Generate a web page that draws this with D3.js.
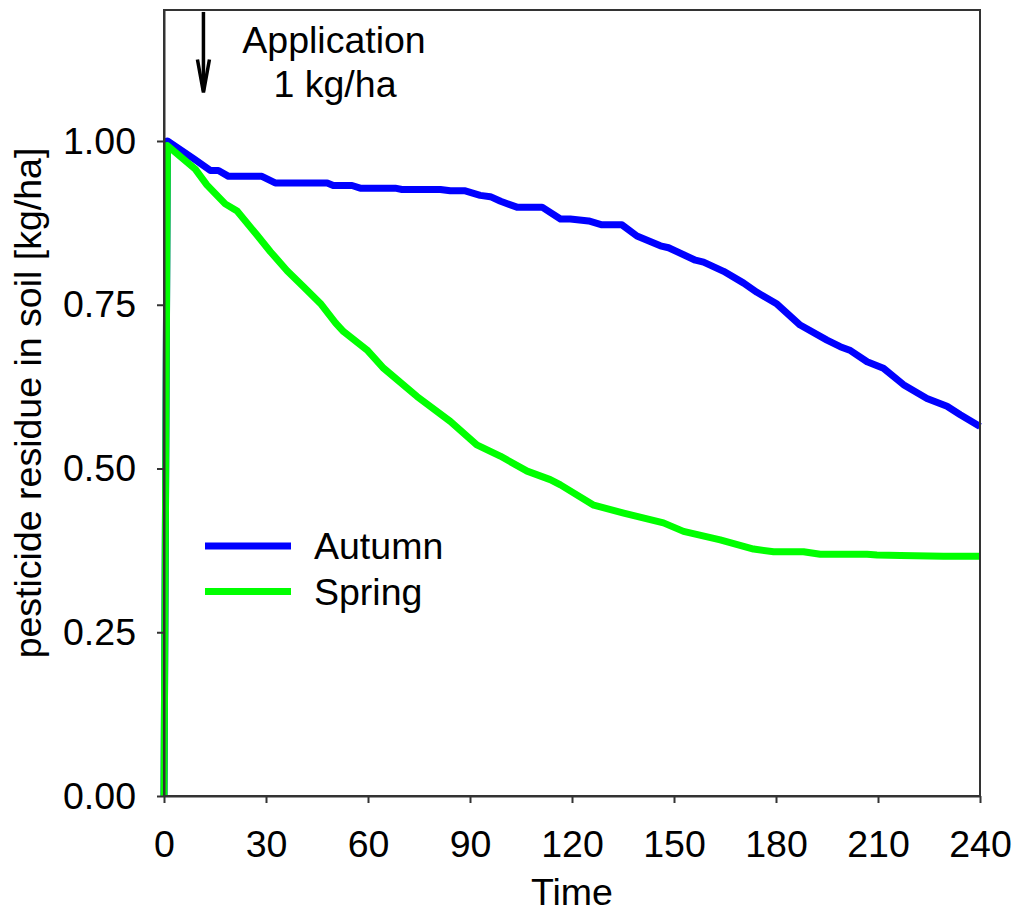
<!DOCTYPE html>
<html>
<head>
<meta charset="utf-8">
<script src="https://cdn.jsdelivr.net/npm/d3@7"></script>
<style>
  body { margin: 0; background: #fff; }
  text { font-family: Arial, "Liberation Sans", sans-serif; fill: #000; }
</style>
</head>
<body>
<script>
// days after application
const autumnDays = [0, 1, 8.7, 13.6, 16, 19, 28.8, 32.7, 48, 49.8, 55.3, 57.7, 68, 70, 81.3, 84.2, 88.6, 93, 96, 99, 103.8, 111.2, 116.6, 119.5, 124.9, 128.8, 134.7, 139.1, 146, 148.4, 156.3, 158.7, 164.6, 170.5, 174.4, 180.3, 187.1, 195, 198.9, 201.9, 206.8, 211.6, 217.5, 224.4, 230.3, 234.2, 240];
const autumnValues = [0, 1.0, 0.973, 0.955, 0.955, 0.946, 0.946, 0.936, 0.936, 0.932, 0.932, 0.928, 0.928, 0.926, 0.926, 0.924, 0.924, 0.917, 0.915, 0.908, 0.899, 0.899, 0.881, 0.881, 0.878, 0.872, 0.872, 0.855, 0.840, 0.837, 0.818, 0.815, 0.801, 0.783, 0.769, 0.751, 0.719, 0.696, 0.686, 0.680, 0.663, 0.653, 0.628, 0.607, 0.595, 0.582, 0.564];
const springDays = [0, 1, 9.2, 12.6, 18, 21.5, 27.4, 31.3, 36.2, 41.1, 46, 50.5, 52.8, 59.7, 64.6, 74.4, 84.2, 92, 98.9, 106.8, 113.6, 116.6, 126.4, 135.2, 146.9, 152.8, 163.6, 173.4, 179.3, 188.1, 193, 206.8, 209.7, 216.6, 229.3, 240];
const springValues = [0, 0.993, 0.957, 0.933, 0.904, 0.893, 0.856, 0.831, 0.802, 0.777, 0.752, 0.722, 0.709, 0.681, 0.653, 0.610, 0.572, 0.536, 0.519, 0.496, 0.483, 0.475, 0.444, 0.432, 0.417, 0.404, 0.391, 0.377, 0.373, 0.373, 0.369, 0.369, 0.368, 0.367, 0.366, 0.366];
const seriesNames = ["Autumn", "Spring"];
const seriesColors = ["#0000ff", "#00ff00"];
const xTicks = [0, 30, 60, 90, 120, 150, 180, 210, 240];
const yTicks = [0, 0.25, 0.5, 0.75, 1.0];
const applicationDay = 11.6;

const w = 1014;
const h = 907;
const margin = { top: 10, right: 34, bottom: 111, left: 164 };
const fontSize = 37.5;

const svg = d3.select("body").append("svg").attr("width", w).attr("height", h);

const xScale = d3.scaleLinear().domain([0, 240]).range([margin.left, w - margin.right]);
const yScale = d3.scaleLinear().domain([0, 1.2]).range([h - margin.bottom, margin.top]);

const series = [
  autumnDays.map((d, i) => [d, autumnValues[i]]),
  springDays.map((d, i) => [d, springValues[i]])
];

const line = d3.line().x((d) => xScale(d[0])).y((d) => yScale(d[1]));

svg.selectAll("path.series")
  .data(series)
  .enter()
  .append("path")
  .attr("class", "series")
  .attr("d", line)
  .attr("fill", "none")
  .attr("stroke", (d, i) => seriesColors[i])
  .attr("stroke-width", 7)
  .attr("stroke-linejoin", "round");

// frame
svg.append("rect")
  .attr("x", xScale(0))
  .attr("y", yScale(1.2))
  .attr("width", xScale(240) - xScale(0))
  .attr("height", yScale(0) - yScale(1.2))
  .attr("fill", "none")
  .attr("stroke", "#333")
  .attr("stroke-width", 2);

const xAxis = d3.axisBottom(xScale).tickValues(xTicks).tickSize(7).tickSizeOuter(0).tickPadding(27);
const yAxis = d3.axisLeft(yScale).tickValues(yTicks).tickSize(7).tickSizeOuter(0).tickPadding(21).tickFormat(d3.format(".2f"));

const gx = svg.append("g").attr("transform", `translate(0, ${yScale(0)})`).call(xAxis);
const gy = svg.append("g").attr("transform", `translate(${xScale(0)}, 0)`).call(yAxis);
[gx, gy].forEach((g) => {
  g.select(".domain").attr("stroke", "#333").attr("stroke-width", 2);
  g.selectAll(".tick line").attr("stroke", "#333").attr("stroke-width", 2);
  g.selectAll(".tick text").attr("font-size", fontSize).attr("font-family", "Arial, 'Liberation Sans', sans-serif").attr("fill", "#000");
});

svg.append("text")
  .attr("x", (xScale(0) + xScale(240)) / 2)
  .attr("y", 905)
  .attr("text-anchor", "middle")
  .attr("font-size", fontSize)
  .text("Time");

svg.append("text")
  .attr("transform", `translate(41, ${(yScale(0) + yScale(1.2)) / 2}) rotate(-90)`)
  .attr("text-anchor", "middle")
  .attr("font-size", fontSize)
  .text("pesticide residue in soil [kg/ha]");

// application arrow
const ax = xScale(applicationDay);
const tipY = yScale(1.074);
svg.append("line")
  .attr("x1", ax).attr("x2", ax)
  .attr("y1", yScale(1.197)).attr("y2", tipY - 2)
  .attr("stroke", "#000").attr("stroke-width", 3.5);
svg.append("path")
  .attr("d", `M${ax - 6},${tipY - 33} L${ax},${tipY} L${ax + 6},${tipY - 33}`)
  .attr("fill", "none").attr("stroke", "#000").attr("stroke-width", 3.5);

svg.append("text").attr("x", 334).attr("y", 53).attr("text-anchor", "middle").attr("font-size", fontSize).text("Application");
svg.append("text").attr("x", 335).attr("y", 97).attr("text-anchor", "middle").attr("font-size", fontSize).text("1 kg/ha");

// legend
const legend = svg.append("g");
seriesNames.forEach((name, i) => {
  const y = 546 + i * 45.5;
  legend.append("line")
    .attr("x1", 205).attr("x2", 291).attr("y1", y).attr("y2", y)
    .attr("stroke", seriesColors[i]).attr("stroke-width", 7);
  legend.append("text")
    .attr("x", 314).attr("y", y + 13)
    .attr("font-size", fontSize)
    .text(name);
});
</script>
</body>
</html>
